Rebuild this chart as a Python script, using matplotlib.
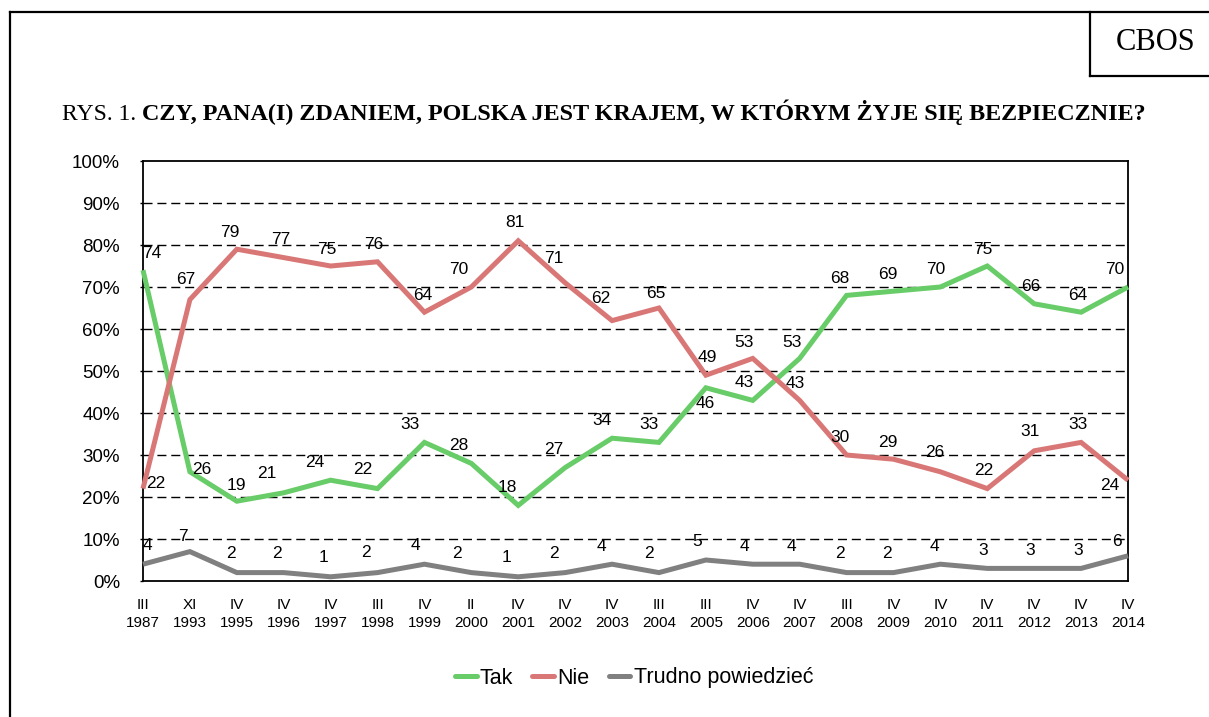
import matplotlib
matplotlib.use("Agg")
import matplotlib.pyplot as plt
from matplotlib.lines import Line2D

# ---- data ----
months = ["III", "XI", "IV", "IV", "IV", "III", "IV", "II", "IV", "IV", "IV",
          "III", "III", "IV", "IV", "III", "IV", "IV", "IV", "IV", "IV", "IV"]
years = ["1987", "1993", "1995", "1996", "1997", "1998", "1999", "2000", "2001",
         "2002", "2003", "2004", "2005", "2006", "2007", "2008", "2009", "2010",
         "2011", "2012", "2013", "2014"]
tak = [74, 26, 19, 21, 24, 22, 33, 28, 18, 27, 34, 33, 46, 43, 53, 68, 69, 70, 75, 66, 64, 70]
nie = [22, 67, 79, 77, 75, 76, 64, 70, 81, 71, 62, 65, 49, 53, 43, 30, 29, 26, 22, 31, 33, 24]
trudno = [4, 7, 2, 2, 1, 2, 4, 2, 1, 2, 4, 2, 5, 4, 4, 2, 2, 4, 3, 3, 3, 6]
series_names = ["Tak", "Nie", "Trudno powiedzieć"]

# ---- style ----
colors = ["#68CC68", "#D97777", "#808080"]
W, H = 1209, 717
DPI = 100
SANS = ["Liberation Sans", "DejaVu Sans"]
SERIF = ["Liberation Serif", "DejaVu Serif"]

# label offsets in pixels (dx, dy) relative to point (up = positive)
off_tak = [(9, 17), (12, 2), (0, 16), (-17, 19), (-16, 18), (-15, 19), (-14, 18), (-13, 18),
           (-11, 18), (-11, 18), (-10, 18), (-10, 18), (-1, -16), (-9, 18), (-8, 16), (-7, 17),
           (-6, 17), (-5, 18), (-4, 17), (-3, 17), (-3, 17), (-13, 18)]
off_nie = [(13, 5), (-4, 20), (-7, 17), (-3, 18), (-4, 17), (-4, 17), (-2, 17), (-13, 18),
           (-3, 18), (-11, 24), (-11, 22), (-3, 14), (1, 18), (-9, 16), (-4, 17), (-7, 18),
           (-6, 17), (-6, 19), (-4, 18), (-4, 19), (-3, 18), (-18, -5)]
off_tr = [(4, 19), (-7, 15), (-6, 19), (-7, 19), (-7, 19), (-12, 20), (-9, 19), (-14, 19),
          (-12, 19), (-11, 19), (-11, 18), (-10, 19), (-9, 19), (-8, 18), (-8, 18), (-7, 19),
          (-7, 19), (-6, 18), (-4, 18), (-4, 18), (-3, 18), (-11, 14)]

plt.rcParams["font.family"] = SANS

fig = plt.figure(figsize=(W / DPI, H / DPI), dpi=DPI)
fig.patch.set_facecolor("white")

def fx(px):
    return px / W

def fy(py):
    return 1 - py / H

# plot area
ax_l, ax_r, ax_t, ax_b = 143, 1128, 161, 581
ax = fig.add_axes([fx(ax_l), fy(ax_b), fx(ax_r - ax_l), (ax_b - ax_t) / H])

x = list(range(len(years)))
lw = 3.6
all_series = [tak, nie, trudno]
all_offs = [off_tak, off_nie, off_tr]
handles = []
for vals, col, name in zip(all_series, colors, series_names):
    ax.plot(x, vals, color=col, lw=lw, solid_joinstyle="miter",
            solid_capstyle="butt", zorder=3, label=name, clip_on=False)
    handles.append(Line2D([0], [0], color=col, lw=lw, solid_capstyle="round"))

for vals, offs in zip(all_series, all_offs):
    for i, v in enumerate(vals):
        dx, dy = offs[i]
        ax.annotate(str(v), (i, v), xytext=(dx * 0.72, dy * 0.72),
                    textcoords="offset points", ha="center", va="center",
                    fontsize=12.5, color="black", zorder=4)

ax.set_xlim(0, len(years) - 1)
ax.set_ylim(0, 100)
ax.set_yticks(range(0, 101, 10))
ax.set_yticklabels([f"{v}%" for v in range(0, 101, 10)], fontsize=13.5)
ax.set_xticks(x)
ax.set_xticklabels([f"{m}\n{y}" for m, y in zip(months, years)], fontsize=11,
                   linespacing=1.4)
ax.tick_params(axis="y", length=2.5, width=1, pad=14, direction="out")
ax.tick_params(axis="x", length=0, pad=12)
for yv in range(10, 100, 10):
    ax.axhline(yv, color="black", lw=1.0, linestyle=(0, (6.5, 3.5)), zorder=1)
for sp in ax.spines.values():
    sp.set_linewidth(1.3)
    sp.set_color("black")

# legend
fig.legend(handles, series_names, loc="center", bbox_to_anchor=(fx(634), fy(678)),
           ncol=3, frameon=False, fontsize=15.5, handlelength=1.0,
           handletextpad=0.15, columnspacing=0.9)

# outer frame
fig.add_artist(Line2D([fx(10), fx(10)], [fy(12), fy(H + 5)], color="black", lw=1.6,
                      transform=fig.transFigure))
fig.add_artist(Line2D([fx(10), fx(W + 5)], [fy(12), fy(12)], color="black", lw=1.6,
                      transform=fig.transFigure))
# CBOS box
fig.add_artist(Line2D([fx(1090), fx(1090)], [fy(12), fy(76)], color="black", lw=1.6,
                      transform=fig.transFigure))
fig.add_artist(Line2D([fx(1090), fx(W + 5)], [fy(76), fy(76)], color="black", lw=1.6,
                      transform=fig.transFigure))
fig.text(fx(1156), fy(43), "CBOS", family=SERIF, fontsize=22, ha="center", va="center")

# title
t1 = fig.text(fx(62), fy(120), "RYS. 1. ", family=SERIF, fontsize=17, ha="left",
              va="baseline")
fig.canvas.draw()
bb = t1.get_window_extent()
fig.text(bb.x1 / W, fy(120), "CZY, PANA(I) ZDANIEM, POLSKA JEST KRAJEM, W KTÓRYM ŻYJE SIĘ BEZPIECZNIE?",
         family=SERIF, fontsize=17.4, fontweight="bold", ha="left", va="baseline")

fig.savefig("out.png", dpi=DPI, facecolor="white")
